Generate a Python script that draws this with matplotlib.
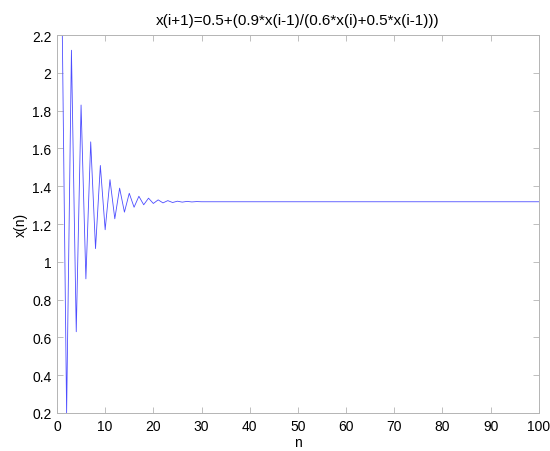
import matplotlib.pyplot as plt

plt.rcParams['font.family'] = ['Liberation Sans', 'DejaVu Sans']

# values (n = 1..100)
x_head = [2.45, 0.2, 2.12, 0.63, 1.83, 0.91, 1.635, 1.07, 1.51, 1.17,
          1.435, 1.228, 1.39, 1.263, 1.363, 1.289, 1.347, 1.302, 1.337, 1.309,
          1.328, 1.312, 1.324, 1.314, 1.321, 1.316, 1.320, 1.317, 1.319, 1.318]
x_tail = [1.318, 1.318, 1.318, 1.318, 1.318, 1.318, 1.318, 1.318, 1.318, 1.318,
          1.318, 1.318, 1.318, 1.318, 1.318, 1.318, 1.318, 1.318, 1.318, 1.318,
          1.318, 1.318, 1.318, 1.318, 1.318, 1.318, 1.318, 1.318, 1.318, 1.318,
          1.318, 1.318, 1.318, 1.318, 1.318, 1.318, 1.318, 1.318, 1.318, 1.318,
          1.318, 1.318, 1.318, 1.318, 1.318, 1.318, 1.318, 1.318, 1.318, 1.318,
          1.318, 1.318, 1.318, 1.318, 1.318, 1.318, 1.318, 1.318, 1.318, 1.318,
          1.318, 1.318, 1.318, 1.318, 1.318, 1.318, 1.318, 1.318, 1.318, 1.318]
x = x_head + x_tail
n = list(range(1, len(x) + 1))

xticks = [0, 10, 20, 30, 40, 50, 60, 70, 80, 90, 100]
yticks = [0.2, 0.4, 0.6, 0.8, 1, 1.2, 1.4, 1.6, 1.8, 2, 2.2]
yticklabels = ['0.2', '0.4', '0.6', '0.8', '1', '1.2', '1.4', '1.6', '1.8', '2', '2.2']

fig = plt.figure(figsize=(5.5, 4.52), dpi=100)
ax = fig.add_axes([0.1036, 0.0841, 0.876, 0.836])
ax.plot(n, x, color='#4d4dff', lw=0.6)

ax.set_xlim(0, 100)
ax.set_ylim(0.2, 2.2)
ax.set_xticks(xticks)
ax.set_xticklabels([str(t) for t in xticks])
ax.set_yticks(yticks)
ax.set_yticklabels(yticklabels)
ax.tick_params(direction='in', top=True, right=True, labelsize=10, length=4,
               width=0.6, pad=4, color='#b4b4b4', labelcolor='black')
for s in ax.spines.values():
    s.set_linewidth(0.7)
    s.set_color('#b4b4b4')

ax.set_xlabel('n', fontsize=10, labelpad=2)
ax.set_ylabel('x(n)', fontsize=10, labelpad=3)
ax.set_title('x(i+1)=0.5+(0.9*x(i-1)/(0.6*x(i)+0.5*x(i-1)))', fontsize=11, pad=8)

fig.savefig('out.png', dpi=100)
